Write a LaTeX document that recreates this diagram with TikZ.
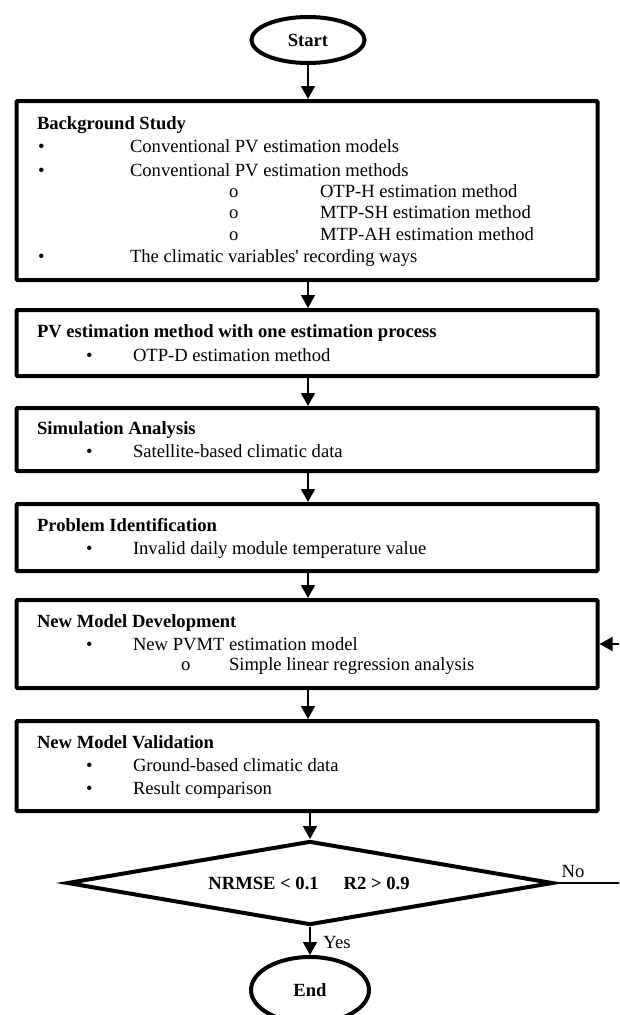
\documentclass[tikz,border=0pt]{standalone}
\usepackage{fontspec}
\setmainfont{Liberation Serif}[Ligatures=TeXOff]
\usetikzlibrary{shapes.geometric,arrows.meta}
\tikzset{
  box/.style={draw, line width=4pt, rectangle, rounded corners=1pt, minimum width=581pt, inner sep=0pt},
  term/.style={draw, line width=4pt, ellipse, inner sep=0pt, font=\bfseries},
  txt/.style={anchor=mid west, inner sep=0pt, outer sep=0pt},
  ttl/.style={txt, font=\bfseries},
  arr/.style={line width=1.5pt, -{Triangle[length=13pt,width=14pt]}},
  lbl/.style={inner sep=0pt}
}
\begin{document}
\fontsize{18.6}{22}\selectfont
\begin{tikzpicture}[x=1pt,y=-1pt]
\clip (0,0) rectangle (619,1015);
\fill[white] (0,0) rectangle (619,1015);
% terminals
\node[term, minimum width=113pt, minimum height=46pt] (start) at (308,40) {Start};
\node[term, minimum width=118pt, minimum height=66pt] (end) at (310,990) {End};
% boxes
\node[box, minimum height=179pt] (b1) at (307,190.5) {};
\node[box, minimum height=66pt] (b2) at (307,343) {};
\node[box, minimum height=63pt] (b3) at (307,439.5) {};
\node[box, minimum height=67pt] (b4) at (307,537.5) {};
\node[box, minimum height=88pt] (b5) at (307,644) {};
\node[box, minimum height=90pt] (b6) at (307,766) {};
% decision
\node[draw, line width=4pt, diamond, minimum width=486pt, minimum height=84pt, inner sep=0pt] (dmd) at (310,883) {};
\node[lbl, font=\bfseries] (dtxt) at (309,883) {NRMSE < 0.1\hspace{25pt}R2 > 0.9};
% box 1 text
\node[ttl] (t1) at (37,125) {Background Study};
\node[txt] (b1a) at (38,148) {•};
\node[txt] (t1a) at (130,148) {Conventional PV estimation models};
\node[txt] (b1b) at (38,172) {•};
\node[txt] (t1b) at (130,172) {Conventional PV estimation methods};
\node[txt] (o1a) at (229,193) {o};
\node[txt] (t1c) at (320,193) {OTP-H estimation method};
\node[txt] (o1b) at (229,214) {o};
\node[txt] (t1d) at (320,214) {MTP-SH estimation method};
\node[txt] (o1c) at (229,236) {o};
\node[txt] (t1e) at (320,236) {MTP-AH estimation method};
\node[txt] (b1c) at (38,258) {•};
\node[txt] (t1f) at (130,258) {The climatic variables' recording ways};
% box 2
\node[ttl] (t2) at (37,333) {PV estimation method with one estimation process};
\node[txt] (b2a) at (86,357) {•};
\node[txt] (t2a) at (133,357) {OTP-D estimation method};
% box 3
\node[ttl] (t3) at (37,430) {Simulation Analysis};
\node[txt] (b3a) at (86,453) {•};
\node[txt] (t3a) at (133,453) {Satellite-based climatic data};
% box 4
\node[ttl] (t4) at (37,527) {Problem Identification};
\node[txt] (b4a) at (86,550) {•};
\node[txt] (t4a) at (133,550) {Invalid daily module temperature value};
% box 5
\node[ttl] (t5) at (37,623) {New Model Development};
\node[txt] (b5a) at (86,646) {•};
\node[txt] (t5a) at (133,646) {New PVMT estimation model};
\node[txt] (o5a) at (181,666) {o};
\node[txt] (t5b) at (229,666) {Simple linear regression analysis};
% box 6
\node[ttl] (t6) at (37,744) {New Model Validation};
\node[txt] (b6a) at (86,767) {•};
\node[txt] (t6a) at (133,767) {Ground-based climatic data};
\node[txt] (b6b) at (86,790) {•};
\node[txt] (t6b) at (133,790) {Result comparison};
% connectors
\draw[arr] (start.south) -- (start.south |- b1.north);
\draw[arr] (b1.south -| start.south) -- (b2.north -| start.south);
\draw[arr] (b2.south -| start.south) -- (b3.north -| start.south);
\draw[arr] (b3.south -| start.south) -- (b4.north -| start.south);
\draw[arr] (b4.south -| start.south) -- (b5.north -| start.south);
\draw[arr] (b5.south -| start.south) -- (b6.north -| start.south);
\draw[arr] (b6.south -| dmd.north) -- (dmd.north);
\draw[arr] (dmd.south) -- (end.north);
\coordinate (fr) at (625,883);
\draw[arr] (dmd.east) -- (fr) |- (b5.east);
\node[lbl] (no) at (573,871) {No};
\node[lbl] (yes) at (337,942) {Yes};
\end{tikzpicture}
\end{document}
